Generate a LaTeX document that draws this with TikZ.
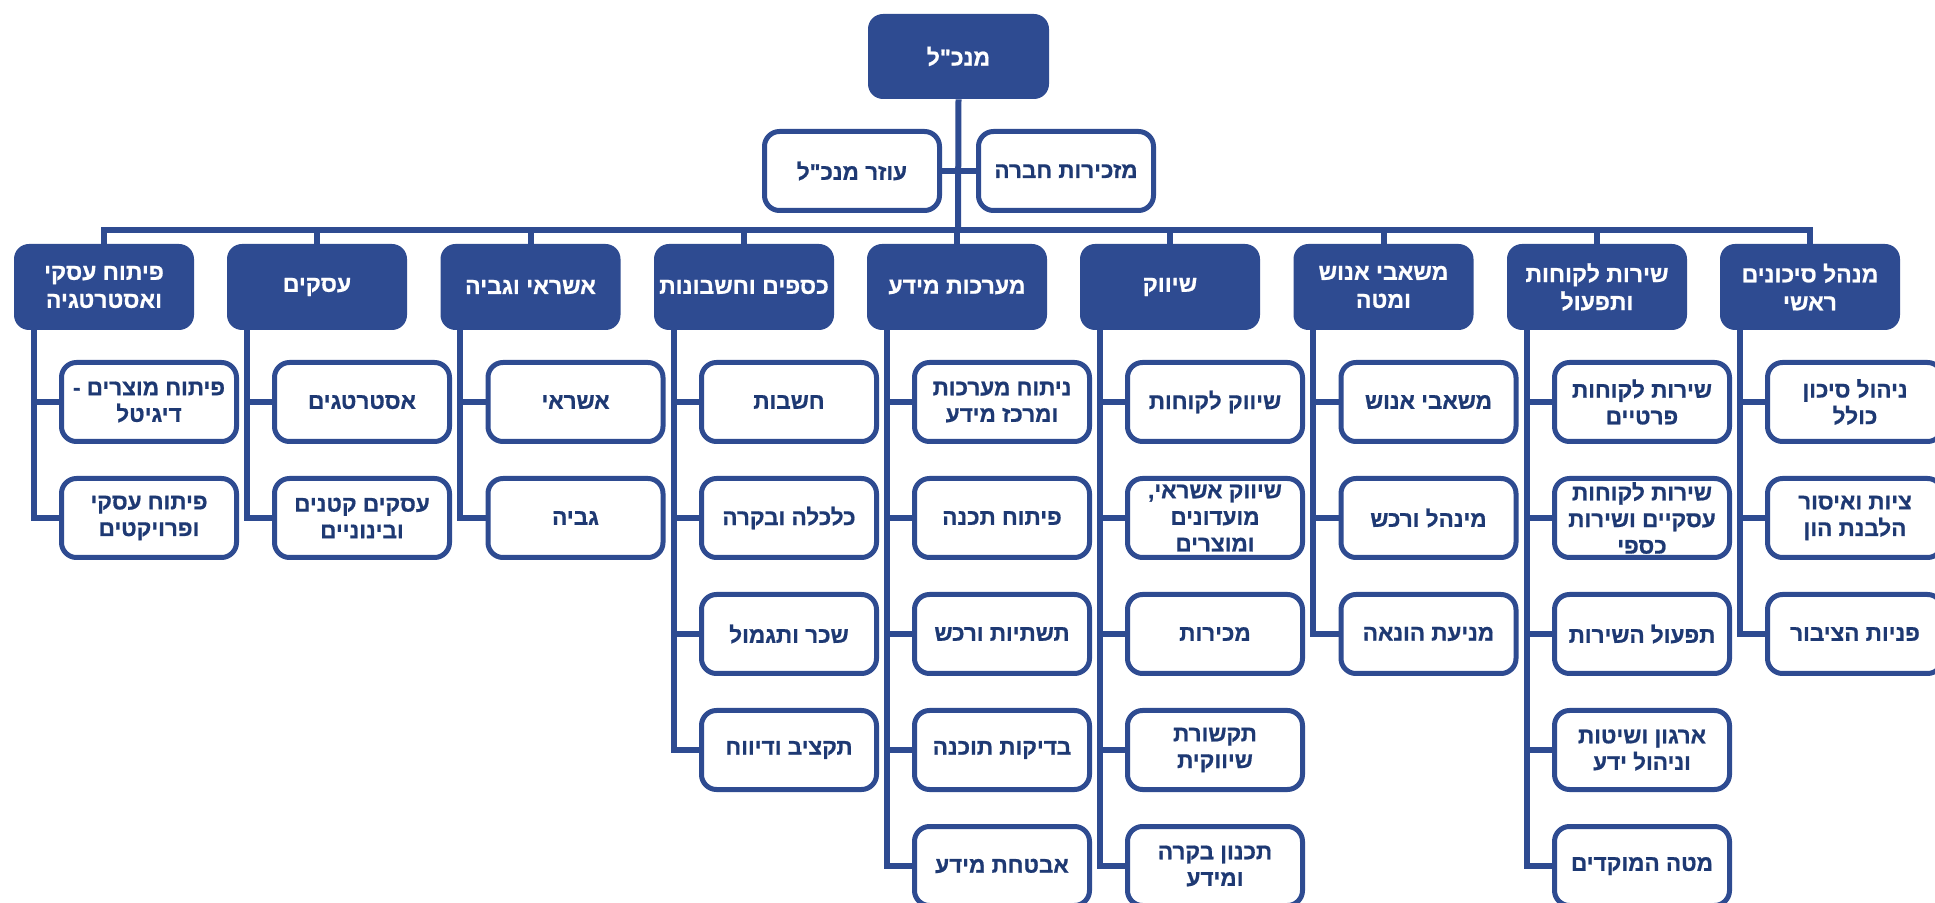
\documentclass[tikz,border=0pt]{standalone}
\usepackage{fontspec}
\newfontfamily\hebfont[Script=Hebrew, BoldFeatures={FakeBold=0.8}]{Liberation Sans}
\TeXXeTstate=1
\usetikzlibrary{positioning}
\usetikzlibrary{calc}
\definecolor{orgblue}{RGB}{46,75,145}
\definecolor{orgtext}{RGB}{30,57,115}
\newcommand{\heb}[1]{\beginR #1\endR}

\begin{document}
\begin{tikzpicture}[x=0.5pt,y=-0.5pt,
  every node/.style={font=\hebfont\bfseries\fontsize{11.25}{13.3}\selectfont, align=center, inner sep=1pt},
  head/.style={fill=orgblue, text=white, rounded corners=7.5pt, minimum width=90pt, minimum height=43pt, font=\hebfont\bfseries\fontsize{11.5}{14}\selectfont},
  unit/.style={draw=orgblue, line width=2.5pt, fill=white, text=orgtext, rounded corners=7.5pt, minimum width=87.5pt, minimum height=39.5pt},
  link/.style={draw=orgblue, line width=3pt}]
\useasboundingbox (0,0) rectangle (1935,903);
\clip (0,0) rectangle (1935,903);
\coordinate (bus) at (958,230);
\coordinate (p1) at (104,287);
\coordinate (p2) at (317,287);
\coordinate (p3) at (530.5,287);
\coordinate (p4) at (744,287);
\coordinate (p5) at (957,287);
\coordinate (p6) at (1170,287);
\coordinate (p7) at (1383.5,287);
\coordinate (p8) at (1597,287);
\coordinate (p9) at (1810,287);

  % top
  \node[head, minimum width=90.5pt, minimum height=42.5pt] (ceo) at (958.5,56.5) {\heb{מנכ"ל}};
  \node[unit] (asst) at (852,171) {\heb{עוזר מנכ"ל}};
  \node[unit] (secr) at (1066,171) {\heb{מזכירות חברה}};

  % divisions
  \node[head] (h1) at (p1) {\heb{פיתוח עסקי}\\\heb{ואסטרטגיה}};
  \node[head] (h2) at (p2) {\heb{עסקים}};
  \node[head] (h3) at (p3) {\heb{אשראי וגביה}};
  \node[head] (h4) at (p4) {\heb{כספים וחשבונות}};
  \node[head] (h5) at (p5) {\heb{מערכות מידע}};
  \node[head] (h6) at (p6) {\heb{שיווק}};
  \node[head] (h7) at (p7) {\heb{משאבי אנוש}\\\heb{ומטה}};
  \node[head] (h8) at (p8) {\heb{שירות לקוחות}\\\heb{ותפעול}};
  \node[head] (h9) at (p9) {\heb{מנהל סיכונים}\\\heb{ראשי}};

  % units
  \node[unit] (c11) at (149,402) {\heb{פיתוח מוצרים -}\\\heb{דיגיטל}};
  \node[unit] (c12) at (149,518) {\heb{פיתוח עסקי}\\\heb{ופרויקטים}};
  \node[unit] (c21) at (362,402) {\heb{אסטרטגים}};
  \node[unit] (c22) at (362,518) {\heb{עסקים קטנים}\\\heb{ובינוניים}};
  \node[unit] (c31) at (575.5,402) {\heb{אשראי}};
  \node[unit] (c32) at (575.5,518) {\heb{גביה}};
  \node[unit] (c41) at (789,402) {\heb{חשבות}};
  \node[unit] (c42) at (789,518) {\heb{כלכלה ובקרה}};
  \node[unit] (c43) at (789,634) {\heb{שכר ותגמול}};
  \node[unit] (c44) at (789,750) {\heb{תקציב ודיווח}};
  \node[unit] (c51) at (1002,402) {\heb{ניתוח מערכות}\\\heb{ומרכז מידע}};
  \node[unit] (c52) at (1002,518) {\heb{פיתוח תכנה}};
  \node[unit] (c53) at (1002,634) {\heb{תשתיות ורכש}};
  \node[unit] (c54) at (1002,750) {\heb{בדיקות תוכנה}};
  \node[unit] (c55) at (1002,866) {\heb{אבטחת מידע}};
  \node[unit] (c61) at (1215,402) {\heb{שיווק לקוחות}};
  \node[unit] (c62) at (1215,518) {\heb{שיווק אשראי,}\\\heb{מועדונים}\\\heb{ומוצרים}};
  \node[unit] (c63) at (1215,634) {\heb{מכירות}};
  \node[unit] (c64) at (1215,750) {\heb{תקשורת}\\\heb{שיווקית}};
  \node[unit] (c65) at (1215,866) {\heb{תכנון בקרה}\\\heb{ומידע}};
  \node[unit] (c71) at (1428.5,402) {\heb{משאבי אנוש}};
  \node[unit] (c72) at (1428.5,518) {\heb{מינהל ורכש}};
  \node[unit] (c73) at (1428.5,634) {\heb{מניעת הונאה}};
  \node[unit] (c81) at (1642,402) {\heb{שירות לקוחות}\\\heb{פרטיים}};
  \node[unit] (c82) at (1642,518) {\heb{שירות לקוחות}\\\heb{עסקיים ושירות}\\\heb{כספי}};
  \node[unit] (c83) at (1642,634) {\heb{תפעול השירות}};
  \node[unit] (c84) at (1642,750) {\heb{ארגון ושיטות}\\\heb{וניהול ידע}};
  \node[unit] (c85) at (1642,866) {\heb{מטה המוקדים}};
  \node[unit] (c91) at (1855,402) {\heb{ניהול סיכון}\\\heb{כולל}};
  \node[unit] (c92) at (1855,518) {\heb{ציות ואיסור}\\\heb{הלבנת הון}};
  \node[unit] (c93) at (1855,634) {\heb{פניות הציבור}};

  % bus
  \draw[link] (ceo.south) -- (bus);
  \draw[link] (asst.east) -- (secr.west);
  \draw[link] (h1.north) -- ++(0,-14) -| (h9.north);
  \draw[link] (h2.north) -- (h2.north |- bus);
  \draw[link] (h3.north) -- (h3.north |- bus);
  \draw[link] (h4.north) -- (h4.north |- bus);
  \draw[link] (h5.north) -- (h5.north |- bus);
  \draw[link] (h6.north) -- (h6.north |- bus);
  \draw[link] (h7.north) -- (h7.north |- bus);
  \draw[link] (h8.north) -- (h8.north |- bus);

  % trunks
  \draw[link] ([xshift=10pt]h1.south west) |- (c11.west);
  \draw[link] ([xshift=10pt]h1.south west) |- (c12.west);
  \draw[link] ([xshift=10pt]h2.south west) |- (c21.west);
  \draw[link] ([xshift=10pt]h2.south west) |- (c22.west);
  \draw[link] ([xshift=10pt]h3.south west) |- (c31.west);
  \draw[link] ([xshift=10pt]h3.south west) |- (c32.west);
  \draw[link] ([xshift=10pt]h4.south west) |- (c41.west);
  \draw[link] ([xshift=10pt]h4.south west) |- (c42.west);
  \draw[link] ([xshift=10pt]h4.south west) |- (c43.west);
  \draw[link] ([xshift=10pt]h4.south west) |- (c44.west);
  \draw[link] ([xshift=10pt]h5.south west) |- (c51.west);
  \draw[link] ([xshift=10pt]h5.south west) |- (c52.west);
  \draw[link] ([xshift=10pt]h5.south west) |- (c53.west);
  \draw[link] ([xshift=10pt]h5.south west) |- (c54.west);
  \draw[link] ([xshift=10pt]h5.south west) |- (c55.west);
  \draw[link] ([xshift=10pt]h6.south west) |- (c61.west);
  \draw[link] ([xshift=10pt]h6.south west) |- (c62.west);
  \draw[link] ([xshift=10pt]h6.south west) |- (c63.west);
  \draw[link] ([xshift=10pt]h6.south west) |- (c64.west);
  \draw[link] ([xshift=10pt]h6.south west) |- (c65.west);
  \draw[link] ([xshift=10pt]h7.south west) |- (c71.west);
  \draw[link] ([xshift=10pt]h7.south west) |- (c72.west);
  \draw[link] ([xshift=10pt]h7.south west) |- (c73.west);
  \draw[link] ([xshift=10pt]h8.south west) |- (c81.west);
  \draw[link] ([xshift=10pt]h8.south west) |- (c82.west);
  \draw[link] ([xshift=10pt]h8.south west) |- (c83.west);
  \draw[link] ([xshift=10pt]h8.south west) |- (c84.west);
  \draw[link] ([xshift=10pt]h8.south west) |- (c85.west);
  \draw[link] ([xshift=10pt]h9.south west) |- (c91.west);
  \draw[link] ([xshift=10pt]h9.south west) |- (c92.west);
  \draw[link] ([xshift=10pt]h9.south west) |- (c93.west);
\end{tikzpicture}
\end{document}
